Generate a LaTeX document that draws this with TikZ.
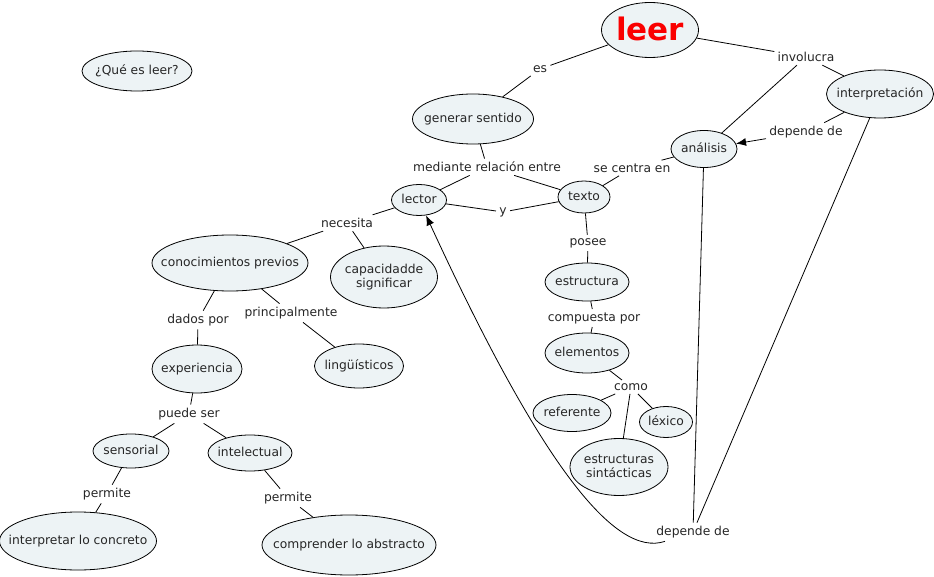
\documentclass[tikz,border=0pt]{standalone}
\usepackage{fontspec}
\setmainfont{DejaVu Sans}
\usetikzlibrary{shapes.geometric,arrows.meta}
\definecolor{conceptfill}{RGB}{237,243,245}
\definecolor{leerred}{RGB}{250,0,0}
% texto sin ancho, el elipse lo fija minimum width/height
\newcommand{\cmtext}[1]{\makebox[0pt]{\begin{tabular}{@{}c@{}}#1\end{tabular}}}

\begin{document}
\begin{tikzpicture}[x=1pt, y=-1pt, line width=0.8pt, font=\fontsize{12.3}{14}\selectfont,
  concept/.style = {draw, ellipse, fill=conceptfill, inner sep=0pt, text height=8pt, text depth=0pt, text=black!85},
  linking/.style = {inner sep=3pt, text=black!85},
  tip/.style = {-{Latex[length=10pt, width=8pt]}}]
\useasboundingbox[fill=white] (0,0) rectangle (934,577);
% conceptos
\node[concept, minimum width=110, minimum height=40] (quees) at (137,71) {\cmtext{¿Qué es leer?}};
\node[concept, minimum width=97, minimum height=55, text height=20pt, text=leerred, font=\fontsize{31}{34}\selectfont\bfseries] (leer) at (650,30) {\cmtext{leer}};
\node[concept, minimum width=121, minimum height=50] (sentido) at (473,119) {\cmtext{generar sentido}};
\node[concept, minimum width=107, minimum height=48] (interp) at (880,94) {\cmtext{interpretación}};
\node[concept, minimum width=66, minimum height=37] (analisis) at (704,149) {\cmtext{análisis}};
\node[concept, minimum width=55, minimum height=31] (lector) at (419,200) {\cmtext{lector}};
\node[concept, minimum width=52, minimum height=32] (texto) at (584,197) {\cmtext{texto}};
\node[concept, minimum width=156, minimum height=56] (conoc) at (230,263) {\cmtext{conocimientos previos}};
\node[concept, minimum width=107, minimum height=62] (capac) at (384,277) {\cmtext{capacidadde\\significar}};
\node[concept, minimum width=90, minimum height=48] (exper) at (197,369) {\cmtext{experiencia}};
\node[concept, minimum width=89, minimum height=44] (ling) at (359,366) {\cmtext{lingüísticos}};
\node[concept, minimum width=76, minimum height=34] (sensor) at (131,451) {\cmtext{sensorial}};
\node[concept, minimum width=84, minimum height=36] (intel) at (250,453) {\cmtext{intelectual}};
\node[concept, minimum width=157, minimum height=58] (concreto) at (78,541) {\cmtext{interpretar lo concreto}};
\node[concept, minimum width=174, minimum height=60] (abstracto) at (349,545) {\cmtext{comprender lo abstracto}};
\node[concept, minimum width=84, minimum height=38] (estruct) at (587,282) {\cmtext{estructura}};
\node[concept, minimum width=84, minimum height=40] (elem) at (587,353) {\cmtext{elementos}};
\node[concept, minimum width=78, minimum height=37] (refer) at (572,413) {\cmtext{referente}};
\node[concept, minimum width=53, minimum height=31] (lexico) at (666,422) {\cmtext{léxico}};
\node[concept, minimum width=98, minimum height=57] (sintac) at (619,467) {\cmtext{estructuras\\sintácticas}};
% palabras de enlace
\node[linking] (es) at (540,69) {es};
\node[linking] (involucra) at (806,57) {involucra};
\node[linking] (depende) at (806,132) {depende de};
\node[linking] (mediante) at (487,167) {mediante relación entre};
\node[linking] (centra) at (632,168) {se centra en};
\node[linking] (y) at (503,212) {y};
\node[linking] (necesita) at (347,223) {necesita};
\node[linking] (posee) at (588,243) {posee};
\node[linking] (compuesta) at (594,318) {compuesta por};
\node[linking] (como) at (631,387) {como};
\node[linking] (dados) at (198,320) {dados por};
\node[linking] (princ) at (291,313) {principalmente};
\node[linking] (puede) at (189,414) {puede ser};
\node[linking] (permiteA) at (107,494) {permite};
\node[linking] (permiteB) at (288,498) {permite};
\node[linking] (dependeB) at (693,532) {depende de};
% conexiones
\draw (leer) -- (es);
\draw (es) -- (sentido);
\draw (leer) -- (involucra);
\draw (involucra) -- (interp);
\draw (involucra) -- (analisis);
\draw (interp) -- (depende);
\draw[tip] (depende) -- (analisis);
\draw (sentido) -- (mediante);
\draw (mediante) -- (lector);
\draw (mediante) -- (texto);
\draw (analisis) -- (centra);
\draw (centra) -- (texto);
\draw (lector) -- (y);
\draw (y) -- (texto);
\draw (lector) -- (necesita);
\draw (necesita) -- (conoc);
\draw (necesita) -- (capac);
\draw (texto) -- (posee);
\draw (posee) -- (estruct);
\draw (estruct) -- (compuesta);
\draw (compuesta) -- (elem);
\draw (elem) -- (como);
\draw (como) -- (refer);
\draw (como) -- (lexico);
\draw (como) -- (sintac);
\draw (conoc) -- (dados);
\draw (dados) -- (exper);
\draw (conoc) -- (princ);
\draw (princ) -- (ling);
\draw (exper) -- (puede);
\draw (puede) -- (sensor);
\draw (puede) -- (intel);
\draw (sensor) -- (permiteA);
\draw (permiteA) -- (concreto);
\draw (intel) -- (permiteB);
\draw (permiteB) -- (abstracto);
\draw (analisis) -- (dependeB);
\draw (interp) -- (dependeB);
\draw[tip] (dependeB) .. controls (615,558) and (541,465) .. (lector);
\end{tikzpicture}
\end{document}
